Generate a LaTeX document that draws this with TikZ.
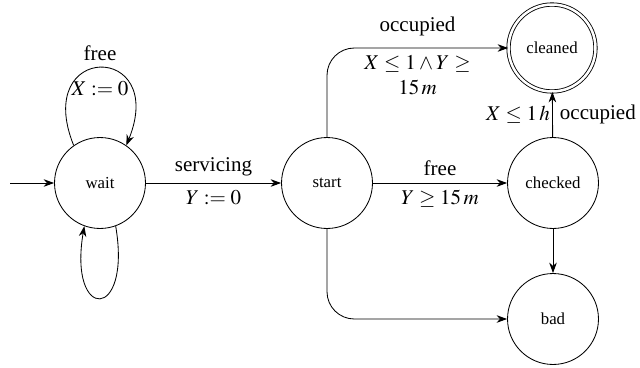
\documentclass[tikz,border=0pt]{standalone}
\usepackage{mathptmx}
\usepackage{fontspec}
\setmainfont{Liberation Serif}
\usetikzlibrary{arrows.meta}
\begin{document}
\begin{tikzpicture}[x=0.476pt,y=-0.476pt,
  >={Stealth[length=5pt,width=3.6pt,inset=1.6pt]},
  state/.style={circle,draw,minimum size=43.3pt,inner sep=0pt,font=\footnotesize},
  final/.style={state,double,double distance=1.2pt,minimum size=41.4pt}]
\useasboundingbox (0,0) rectangle (640,367);
\node[state] (wait) at (100,183) {wait};
\node[state] (start) at (327,183) {start};
\node[state] (checked) at (553,183) {checked};
\node[final] (cleaned) at (552,48) {cleaned};
\node[state] (bad) at (553,319) {bad};
\coordinate (init) at (10,183);
\draw[->] (init) -- (wait);
\draw[->] (wait) -- node[above]{servicing} node[below]{$Y:=0$} (start);
\draw[->] (start) -- node[above]{free} node[below]{$Y\geq 15\,m$} (checked);
\draw[->,rounded corners=13pt] (start) |- node[pos=0.75,above,yshift=2pt]{occupied} node[pos=0.75,below,text width=2cm,align=center]{$X\leq 1\wedge Y\geq 15\,m$} (cleaned);
\draw[->,rounded corners=13pt] (start) |- (bad);
\draw[->] (checked) -- node[left,inner sep=1pt]{$X\leq 1\,h$} node[right]{occupied} (cleaned);
\draw[->] (checked) -- (bad);
\draw[->] (wait.125) .. controls (32,42) and (168,42) .. node[pos=0.5,above]{free} node[pos=0.5,below=3pt]{$X:=0$} (wait.55);
\draw[->] (wait.-70) .. controls (132,322) and (68,322) .. (wait.-110);
\end{tikzpicture}
\end{document}
